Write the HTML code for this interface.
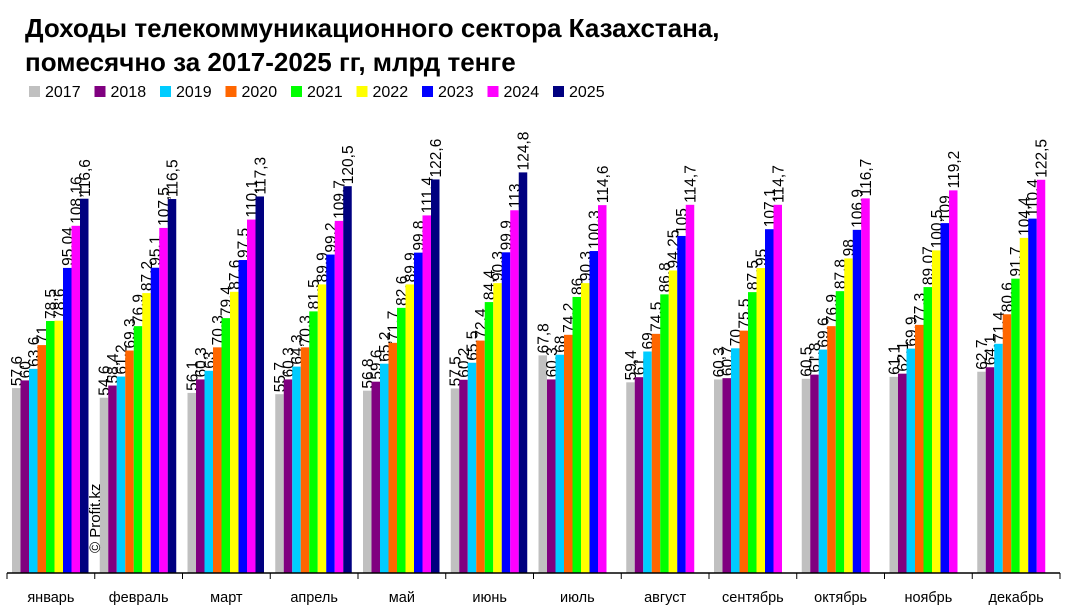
<!DOCTYPE html>
<html><head><meta charset="utf-8"><style>
body{margin:0;background:#fff;}
svg{display:block;font-family:"Liberation Sans",Arial,sans-serif;}
</style></head><body>
<svg width="1065" height="613" viewBox="0 0 1065 613" xmlns="http://www.w3.org/2000/svg">
<text x="25" y="37" font-size="26" font-weight="bold" fill="#000">Доходы телекоммуникационного сектора Казахстана,</text>
<text x="25" y="71" font-size="26" font-weight="bold" fill="#000">помесячно за 2017-2025 гг, млрд тенге</text>
<g id="legend"></g>
<g id="bars"></g>
<g id="axis"></g>
<text transform="translate(100,553) rotate(-90)" font-size="15" fill="#000">© Profit.kz</text>
</svg>
<script>
const months=["январь","февраль","март","апрель","май","июнь","июль","август","сентябрь","октябрь","ноябрь","декабрь"];
const years=["2017","2018","2019","2020","2021","2022","2023","2024","2025"];
const colors=["#c0c0c0","#800080","#00ccff","#ff6600","#00ff00","#ffff00","#0000ff","#ff00ff","#000080"];
const labels=[
["57,6","60","63,6","71","78,5","78,6","95,04","108,16","116,6"],
["54,6","58,4","61,2","69,3","76,9","87,2","95,1","107,5","116,5"],
["56,1","60,3","63","70,3","79,4","87,6","97,5","110,1","117,3"],
["55,7","60,3","64,3","70,3","81,5","89,9","99,2","109,7","120,5"],
["56,8","59,6","65,2","71,7","82,6","89,9","99,8","111,4","122,6"],
["57,5","60,2","65,5","72,4","84,4","90,3","99,9","113","124,8"],
["67,8","60,3","68","74,2","86","90,3","100,3","114,6"],
["59,4","61","69","74,5","86,8","94,25","105","114,7"],
["60,3","60,7","70","75,5","87,5","95","107,1","114,7"],
["60,5","61,8","69,6","76,9","87,8","98","106,9","116,7"],
["61,1","62,1","69,9","77,3","89,07","100,5","109","119,2"],
["62,7","64,1","71,4","80,6","91,7","104,4","110,4","122,5"]
];
const NS="http://www.w3.org/2000/svg";
const x0=7,x1=1060,base=573,k=3.21,bw=8.5;
const gw=(x1-x0)/months.length;
const yS=v=>base-v*k;
const xS=(m,i)=>x0+m*gw+5+i*bw;
function mk(tag,attrs,parent){const e=document.createElementNS(NS,tag);for(const a in attrs)e.setAttribute(a,attrs[a]);parent.appendChild(e);return e;}
const bars=document.getElementById('bars');
labels.forEach((row,m)=>{row.forEach((s,i)=>{
 const v=parseFloat(s.replace(',','.'));
 const r=mk('rect',{x:xS(m,i),y:yS(v),width:bw,height:v*k,fill:colors[i]},bars);
 
 
 const cx=xS(m,i)+bw/2+5.5, ty=yS(v)-2;
 const t=mk('text',{transform:`translate(${cx},${ty}) rotate(-90)`,'font-size':15.5,fill:'#000'},bars);
 
 
 t.textContent=s;
});});
const ax=document.getElementById('axis');
mk('line',{x1:x0,y1:base,x2:x1,y2:base,stroke:'#000','stroke-width':1.5},ax);
for(let m=0;m<=months.length;m++){mk('line',{x1:x0+m*gw,y1:base,x2:x0+m*gw,y2:base+6,stroke:'#000','stroke-width':1},ax);}
months.forEach((n,m)=>{const t=mk('text',{x:x0+m*gw+gw/2,y:602,'font-size':14.5,'text-anchor':'middle',fill:'#000'},ax);
 
 
 t.textContent=n;});
const lg=document.getElementById('legend');
let lx=29;
years.forEach((y,i)=>{
 const r=mk('rect',{x:lx,y:86,width:11,height:11,fill:colors[i]},lg);
 
 
 const t=mk('text',{x:lx+16,y:97,'font-size':16,fill:'#000'},lg);
 
 
 t.textContent=y;
 lx+=65.5;
});
</script>
</body></html>
